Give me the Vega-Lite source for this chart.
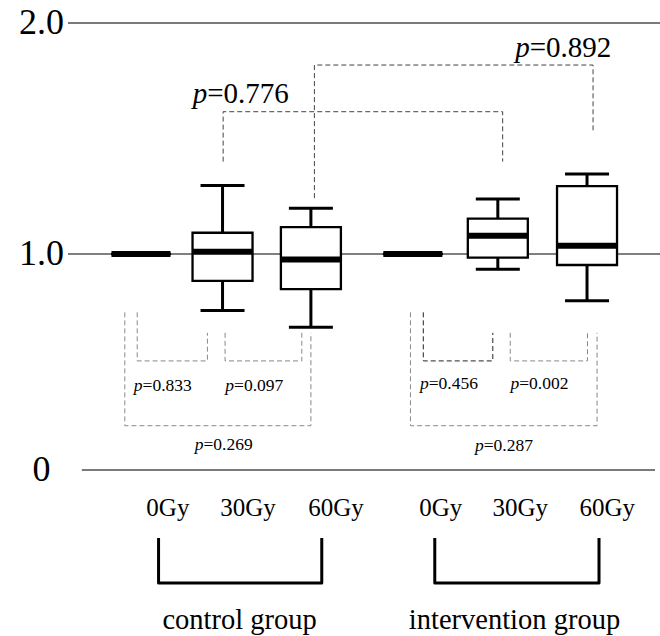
{
  "$schema": "https://vega.github.io/schema/vega-lite/v6.json",
  "width": 592,
  "height": 636,
  "autosize": {"type": "none"},
  "padding": {"left": 68, "top": 0, "right": 0, "bottom": 0},
  "background": "white",
  "config": {"view": {"stroke": null}, "font": "Liberation Serif"},
  "datasets": {
    "levels": [
      {"level": 0, "label": "0"},
      {"level": 1, "label": "1.0"},
      {"level": 2, "label": "2.0"}
    ],
    "boxes": [
      {"group": "control group", "dose": "0Gy", "pos": 1, "lower": 1.0, "q1": 1.0, "median": 1.0, "q3": 1.0, "upper": 1.0},
      {"group": "control group", "dose": "30Gy", "pos": 1.96, "lower": 0.738, "q1": 0.876, "median": 1.010, "q3": 1.092, "upper": 1.296},
      {"group": "control group", "dose": "60Gy", "pos": 3, "lower": 0.661, "q1": 0.837, "median": 0.975, "q3": 1.116, "upper": 1.198},
      {"group": "intervention group", "dose": "0Gy", "pos": 4.2, "lower": 1.0, "q1": 1.0, "median": 1.0, "q3": 1.0, "upper": 1.0},
      {"group": "intervention group", "dose": "30Gy", "pos": 5.2, "lower": 0.929, "q1": 0.983, "median": 1.079, "q3": 1.153, "upper": 1.238},
      {"group": "intervention group", "dose": "60Gy", "pos": 6.25, "lower": 0.784, "q1": 0.949, "median": 1.036, "q3": 1.294, "upper": 1.346}
    ],
    "brackets": [
      {"br": "0.776", "level": "between", "i": 0, "pos": 1.967, "v": 1.40},
      {"br": "0.776", "level": "between", "i": 1, "pos": 1.967, "v": 1.616},
      {"br": "0.776", "level": "between", "i": 2, "pos": 5.257, "v": 1.616},
      {"br": "0.776", "level": "between", "i": 3, "pos": 5.257, "v": 1.40},
      {"br": "0.892", "level": "between", "i": 0, "pos": 3.041, "v": 1.242},
      {"br": "0.892", "level": "between", "i": 1, "pos": 3.041, "v": 1.818},
      {"br": "0.892", "level": "between", "i": 2, "pos": 6.321, "v": 1.818},
      {"br": "0.892", "level": "between", "i": 3, "pos": 6.321, "v": 1.532},
      {"br": "0.833", "level": "within", "i": 0, "pos": 0.956, "v": 0.73},
      {"br": "0.833", "level": "within", "i": 1, "pos": 0.956, "v": 0.505},
      {"br": "0.833", "level": "within", "i": 2, "pos": 1.782, "v": 0.505},
      {"br": "0.833", "level": "within", "i": 3, "pos": 1.782, "v": 0.635},
      {"br": "0.097", "level": "within", "i": 0, "pos": 1.990, "v": 0.635},
      {"br": "0.097", "level": "within", "i": 1, "pos": 1.990, "v": 0.505},
      {"br": "0.097", "level": "within", "i": 2, "pos": 2.893, "v": 0.505},
      {"br": "0.097", "level": "within", "i": 3, "pos": 2.893, "v": 0.635},
      {"br": "0.269", "level": "within", "i": 0, "pos": 0.810, "v": 0.73},
      {"br": "0.269", "level": "within", "i": 1, "pos": 0.810, "v": 0.205},
      {"br": "0.269", "level": "within", "i": 2, "pos": 3.000, "v": 0.205},
      {"br": "0.269", "level": "within", "i": 3, "pos": 3.000, "v": 0.635},
      {"br": "0.456", "level": "within", "i": 0, "pos": 4.323, "v": 0.73},
      {"br": "0.456", "level": "within", "i": 1, "pos": 4.323, "v": 0.505},
      {"br": "0.456", "level": "within", "i": 2, "pos": 5.141, "v": 0.505},
      {"br": "0.456", "level": "within", "i": 3, "pos": 5.141, "v": 0.635},
      {"br": "0.002", "level": "within", "i": 0, "pos": 5.346, "v": 0.635},
      {"br": "0.002", "level": "within", "i": 1, "pos": 5.346, "v": 0.505},
      {"br": "0.002", "level": "within", "i": 2, "pos": 6.255, "v": 0.505},
      {"br": "0.002", "level": "within", "i": 3, "pos": 6.255, "v": 0.635},
      {"br": "0.287", "level": "within", "i": 0, "pos": 4.172, "v": 0.73},
      {"br": "0.287", "level": "within", "i": 1, "pos": 4.172, "v": 0.205},
      {"br": "0.287", "level": "within", "i": 2, "pos": 6.368, "v": 0.205},
      {"br": "0.287", "level": "within", "i": 3, "pos": 6.368, "v": 0.635}
    ],
    "pvals": [
      {"p": 0.776, "level": "between", "pos": 1.779, "v": 1.654},
      {"p": 0.892, "level": "between", "pos": 5.575, "v": 1.853},
      {"p": 0.833, "level": "within", "pos": 1.019, "v": 0.367},
      {"p": 0.097, "level": "within", "pos": 2.095, "v": 0.367},
      {"p": 0.269, "level": "within", "pos": 1.736, "v": 0.093},
      {"p": 0.456, "level": "within", "pos": 4.386, "v": 0.375},
      {"p": 0.002, "level": "within", "pos": 5.451, "v": 0.375},
      {"p": 0.287, "level": "within", "pos": 5.034, "v": 0.089}
    ],
    "doses": [
      {"label": "0Gy", "pos": 1.317, "v": -0.213},
      {"label": "30Gy", "pos": 2.260, "v": -0.213},
      {"label": "60Gy", "pos": 3.295, "v": -0.213},
      {"label": "0Gy", "pos": 4.528, "v": -0.213},
      {"label": "30Gy", "pos": 5.465, "v": -0.213},
      {"label": "60Gy", "pos": 6.489, "v": -0.213}
    ],
    "groups": [
      {"label": "control group", "pos": 2.161, "v": -0.736},
      {"label": "intervention group", "pos": 5.396, "v": -0.736}
    ],
    "groupBrackets": [
      {"group": "control group", "i": 0, "pos": 1.207, "v": -0.315},
      {"group": "control group", "i": 1, "pos": 1.207, "v": -0.523},
      {"group": "control group", "i": 2, "pos": 3.128, "v": -0.523},
      {"group": "control group", "i": 3, "pos": 3.128, "v": -0.315},
      {"group": "intervention group", "i": 0, "pos": 4.458, "v": -0.315},
      {"group": "intervention group", "i": 1, "pos": 4.458, "v": -0.523},
      {"group": "intervention group", "i": 2, "pos": 6.391, "v": -0.523},
      {"group": "intervention group", "i": 3, "pos": 6.391, "v": -0.315}
    ]
  },
  "layer": [
    {
      "data": {"name": "levels"},
      "transform": [{"filter": "datum.level === 2"}],
      "mark": {"type": "rule", "color": "#7a7a7a", "strokeWidth": 2},
      "encoding": {
        "y": {
          "field": "level", "type": "quantitative",
          "scale": {"domain": [-0.7685, 0, 1, 2], "range": [636, 470, 254, 23], "nice": false, "zero": false},
          "axis": null
        }
      }
    },
    {
      "data": {"name": "levels"},
      "transform": [{"filter": "datum.level === 0"}],
      "mark": {"type": "rule", "color": "#7a7a7a", "strokeWidth": 2},
      "encoding": {
        "x": {"datum": 0.304, "type": "quantitative", "scale": {"domain": [0.2, 7.05], "nice": false, "zero": false}, "axis": null},
        "x2": {"datum": 7.05},
        "y": {"field": "level", "type": "quantitative", "axis": null}
      }
    },
    {
      "data": {"name": "levels"},
      "transform": [{"filter": "datum.level === 1"}],
      "mark": {"type": "rule", "color": "#000000", "strokeWidth": 1},
      "encoding": {
        "y": {"field": "level", "type": "quantitative", "axis": null}
      }
    },
    {
      "data": {"name": "levels"},
      "mark": {"type": "text", "align": "center", "baseline": "middle", "font": "Liberation Serif", "fontSize": 36, "color": "black"},
      "encoding": {
        "x": {"datum": -0.17, "type": "quantitative", "axis": null},
        "y": {"field": "level", "type": "quantitative", "axis": null},
        "text": {"field": "label"}
      }
    },
    {
      "data": {"name": "boxes"},
      "mark": {"type": "rule", "color": "black", "strokeWidth": 3},
      "encoding": {
        "x": {"field": "pos", "type": "quantitative", "axis": null},
        "y": {"field": "lower", "type": "quantitative", "axis": null},
        "y2": {"field": "upper"}
      }
    },
    {
      "data": {"name": "boxes"},
      "mark": {"type": "bar", "size": 60, "fill": "white", "stroke": "black", "strokeWidth": 2.3},
      "encoding": {
        "x": {"field": "pos", "type": "quantitative", "axis": null},
        "y": {"field": "q1", "type": "quantitative", "axis": null},
        "y2": {"field": "q3"}
      }
    },
    {
      "data": {"name": "boxes"},
      "mark": {"type": "tick", "orient": "horizontal", "size": 59, "thickness": 6, "color": "black", "opacity": 1},
      "encoding": {
        "x": {"field": "pos", "type": "quantitative", "axis": null},
        "y": {"field": "median", "type": "quantitative", "axis": null}
      }
    },
    {
      "data": {"name": "boxes"},
      "mark": {"type": "tick", "orient": "horizontal", "size": 44, "thickness": 3, "color": "black", "opacity": 1},
      "encoding": {
        "x": {"field": "pos", "type": "quantitative", "axis": null},
        "y": {"field": "upper", "type": "quantitative", "axis": null}
      }
    },
    {
      "data": {"name": "boxes"},
      "mark": {"type": "tick", "orient": "horizontal", "size": 44, "thickness": 3, "color": "black", "opacity": 1},
      "encoding": {
        "x": {"field": "pos", "type": "quantitative", "axis": null},
        "y": {"field": "lower", "type": "quantitative", "axis": null}
      }
    },
    {
      "data": {"name": "brackets"},
      "transform": [{"filter": "datum.level === 'between'"}],
      "mark": {"type": "line", "color": "#444444", "strokeWidth": 1, "strokeDash": [5, 3]},
      "encoding": {
        "x": {"field": "pos", "type": "quantitative", "axis": null},
        "y": {"field": "v", "type": "quantitative", "axis": null},
        "detail": {"field": "br"},
        "order": {"field": "i"}
      }
    },
    {
      "data": {"name": "brackets"},
      "transform": [{"filter": "datum.level === 'within' && datum.br !== '0.456'"}],
      "mark": {"type": "line", "color": "#888888", "strokeWidth": 1, "strokeDash": [5, 3]},
      "encoding": {
        "x": {"field": "pos", "type": "quantitative", "axis": null},
        "y": {"field": "v", "type": "quantitative", "axis": null},
        "detail": {"field": "br"},
        "order": {"field": "i"}
      }
    },
    {
      "data": {"name": "brackets"},
      "transform": [{"filter": "datum.br === '0.456'"}],
      "mark": {"type": "line", "color": "#222222", "strokeWidth": 1, "strokeDash": [5, 3]},
      "encoding": {
        "x": {"field": "pos", "type": "quantitative", "axis": null},
        "y": {"field": "v", "type": "quantitative", "axis": null},
        "detail": {"field": "br"},
        "order": {"field": "i"}
      }
    },
    {
      "data": {"name": "pvals"},
      "transform": [{"filter": "datum.level === 'between'"}],
      "mark": {"type": "text", "text": "p", "align": "right", "baseline": "alphabetic", "font": "Liberation Serif", "fontStyle": "italic", "fontSize": 29, "color": "black"},
      "encoding": {
        "x": {"field": "pos", "type": "quantitative", "axis": null},
        "y": {"field": "v", "type": "quantitative", "axis": null}
      }
    },
    {
      "data": {"name": "pvals"},
      "transform": [{"filter": "datum.level === 'between'"}, {"calculate": "'=' + format(datum.p, '.3f')", "as": "rest"}],
      "mark": {"type": "text", "align": "left", "baseline": "alphabetic", "font": "Liberation Serif", "fontSize": 29, "color": "black"},
      "encoding": {
        "x": {"field": "pos", "type": "quantitative", "axis": null},
        "y": {"field": "v", "type": "quantitative", "axis": null},
        "text": {"field": "rest"}
      }
    },
    {
      "data": {"name": "pvals"},
      "transform": [{"filter": "datum.level === 'within'"}],
      "mark": {"type": "text", "text": "p", "align": "right", "baseline": "alphabetic", "font": "Liberation Serif", "fontStyle": "italic", "fontSize": 17.5, "color": "black"},
      "encoding": {
        "x": {"field": "pos", "type": "quantitative", "axis": null},
        "y": {"field": "v", "type": "quantitative", "axis": null}
      }
    },
    {
      "data": {"name": "pvals"},
      "transform": [{"filter": "datum.level === 'within'"}, {"calculate": "'=' + format(datum.p, '.3f')", "as": "rest"}],
      "mark": {"type": "text", "align": "left", "baseline": "alphabetic", "font": "Liberation Serif", "fontSize": 17.5, "color": "black"},
      "encoding": {
        "x": {"field": "pos", "type": "quantitative", "axis": null},
        "y": {"field": "v", "type": "quantitative", "axis": null},
        "text": {"field": "rest"}
      }
    },
    {
      "data": {"name": "doses"},
      "mark": {"type": "text", "align": "center", "baseline": "alphabetic", "font": "Liberation Serif", "fontSize": 25, "color": "black"},
      "encoding": {
        "x": {"field": "pos", "type": "quantitative", "axis": null},
        "y": {"field": "v", "type": "quantitative", "axis": null},
        "text": {"field": "label"}
      }
    },
    {
      "data": {"name": "groupBrackets"},
      "mark": {"type": "line", "color": "black", "strokeWidth": 3, "strokeJoin": "round", "strokeCap": "butt"},
      "encoding": {
        "x": {"field": "pos", "type": "quantitative", "axis": null},
        "y": {"field": "v", "type": "quantitative", "axis": null},
        "detail": {"field": "group"},
        "order": {"field": "i"}
      }
    },
    {
      "data": {"name": "groups"},
      "mark": {"type": "text", "align": "center", "baseline": "alphabetic", "font": "Liberation Serif", "fontSize": 28.5, "color": "black"},
      "encoding": {
        "x": {"field": "pos", "type": "quantitative", "axis": null},
        "y": {"field": "v", "type": "quantitative", "axis": null},
        "text": {"field": "label"}
      }
    }
  ]
}
